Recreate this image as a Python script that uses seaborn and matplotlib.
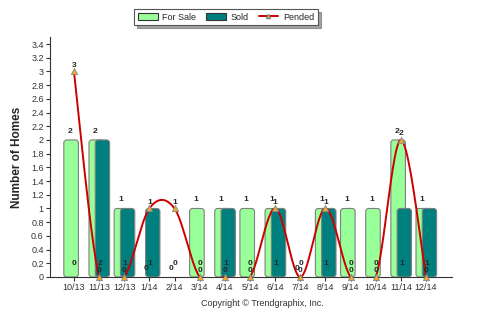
import numpy as np
import pandas as pd
import matplotlib
matplotlib.use("Agg")
import matplotlib.pyplot as plt
import seaborn as sns
from matplotlib.patches import FancyBboxPatch, Patch
from matplotlib.lines import Line2D

months = ["10/13", "11/13", "12/13", "1/14", "2/14", "3/14", "4/14", "5/14",
          "6/14", "7/14", "8/14", "9/14", "10/14", "11/14", "12/14"]
for_sale = [2, 2, 1, 0, 0, 1, 1, 1, 1, 0, 1, 1, 1, 2, 1]
sold = [0, 2, 1, 1, 0, 0, 1, 0, 1, 0, 1, 0, 0, 1, 1]
pended = [3, 0, 0, 1, 1, 0, 0, 0, 1, 0, 1, 0, 0, 2, 0]

GREEN = "#99FF99"
TEAL = "#007F7F"
RED = "#CC0000"

sns.set_theme(style="white")
plt.rcParams["font.family"] = ["Liberation Sans", "DejaVu Sans"]

fig = plt.figure(figsize=(4.82, 3.25), dpi=100)
ax = fig.add_axes([0.1037, 0.1477, 0.834, 0.738])

df = pd.DataFrame({
    "month": months * 2,
    "value": for_sale + sold,
    "series": ["For Sale"] * len(months) + ["Sold"] * len(months),
})
sns.barplot(data=df, x="month", y="value", hue="series", order=months,
            palette={"For Sale": GREEN, "Sold": TEAL}, dodge=True,
            legend=False, ax=ax, width=0.8, errorbar=None)

# Reshape bars into overlapping rounded bars
n = len(months)
patches = list(ax.patches)
for i, p in enumerate(patches):
    h = p.get_height()
    cx = p.get_x() + p.get_width() / 2
    idx = int(round(cx))
    if i < n:
        left, w, col, z = idx - 0.40, 0.58, GREEN, 2
    else:
        left, w, col, z = idx - 0.15, 0.57, TEAL, 3
    p.remove()
    if h <= 0:
        continue
    fb = FancyBboxPatch((left, 0), w, h,
                        boxstyle="round,pad=0,rounding_size=0.12",
                        mutation_aspect=0.37, facecolor=col,
                        edgecolor="#7f7f7f", linewidth=0.8, zorder=z)
    ax.add_patch(fb)

# Cardinal (Catmull-Rom) spline through the pended points
def cardinal_spline(y, tension=0.5, steps=40):
    P = np.column_stack([np.arange(len(y), dtype=float), np.asarray(y, float)])
    m = len(P)
    xs, ys = [], []
    for k in range(m - 1):
        p0 = P[k]; p3 = P[k + 1]
        prev = P[k - 1] if k > 0 else P[k]
        nxt = P[k + 2] if k + 2 < m else P[k + 1]
        c1 = p0 + tension / 3 * (p3 - prev)
        c2 = p3 - tension / 3 * (nxt - p0)
        t = np.linspace(0, 1, steps)[:, None]
        B = (1 - t)**3 * p0 + 3 * (1 - t)**2 * t * c1 + 3 * (1 - t) * t**2 * c2 + t**3 * p3
        xs.append(B[:, 0]); ys.append(B[:, 1])
    return np.concatenate(xs), np.concatenate(ys)

xi = np.arange(n)
xs, ys = cardinal_spline(pended)
ax.plot(xs, ys, color=RED, linewidth=1.4, zorder=5)
sns.scatterplot(x=xi, y=pended, marker="^", s=20, color="#F0A830", edgecolor="#888888",
                linewidth=0.6, zorder=6, clip_on=False, ax=ax, legend=False)

# Value labels
fs = 6
for i in range(n):
    ax.text(i - 0.15, for_sale[i] + 0.13, str(for_sale[i]), ha="center", va="center",
            fontsize=fs, fontweight="bold", zorder=7)
    ax.text(i + 0.02, 0.19, str(sold[i]), ha="center", va="center",
            fontsize=fs, fontweight="bold", zorder=7)
    ax.text(i, pended[i] + 0.09, str(pended[i]), ha="center", va="center",
            fontsize=fs, fontweight="bold", zorder=7)

ax.set_xlim(-0.95, n - 1 + 1.03)
ax.set_ylim(0, 3.5)
yt = np.round(np.arange(0, 3.41, 0.2), 1)
ax.set_yticks(yt)
ax.set_yticklabels([("%g" % v) for v in yt])
ax.set_xlabel("")
ax.set_ylabel("Number of Homes", fontsize=8.5, fontweight="bold", labelpad=6)
ax.tick_params(axis="both", labelsize=6.5, length=3, width=0.8, direction="out",
               colors="#333333", pad=1.5, bottom=True, left=True)
for s in ["top", "right"]:
    ax.spines[s].set_visible(False)
for s in ["left", "bottom"]:
    ax.spines[s].set_color("#333333")
    ax.spines[s].set_linewidth(0.8)
ax.grid(False)

handles = [Patch(facecolor=GREEN, edgecolor="#333333", linewidth=0.8),
           Patch(facecolor=TEAL, edgecolor="#333333", linewidth=0.8),
           Line2D([0], [0], color=RED, lw=1.4, marker="^", markersize=3,
                  markerfacecolor="#F0A830", markeredgecolor="#888888")]
leg = fig.legend(handles, ["For Sale", "Sold", "Pended"], loc="center",
                 bbox_to_anchor=(226 / 482, 1 - 17 / 325), ncol=3, fontsize=6.5,
                 frameon=True, fancybox=False, shadow=True, handlelength=2.2,
                 handleheight=0.9, columnspacing=1.1, handletextpad=0.5,
                 borderpad=0.4)
leg.get_frame().set_edgecolor("#555555")
leg.get_frame().set_linewidth(0.8)

fig.text(262 / 482, 1 - 303 / 325, "Copyright \u00a9 Trendgraphix, Inc.",
         ha="center", va="center", fontsize=6.5, color="#333333")

fig.savefig("out.png", dpi=100)
